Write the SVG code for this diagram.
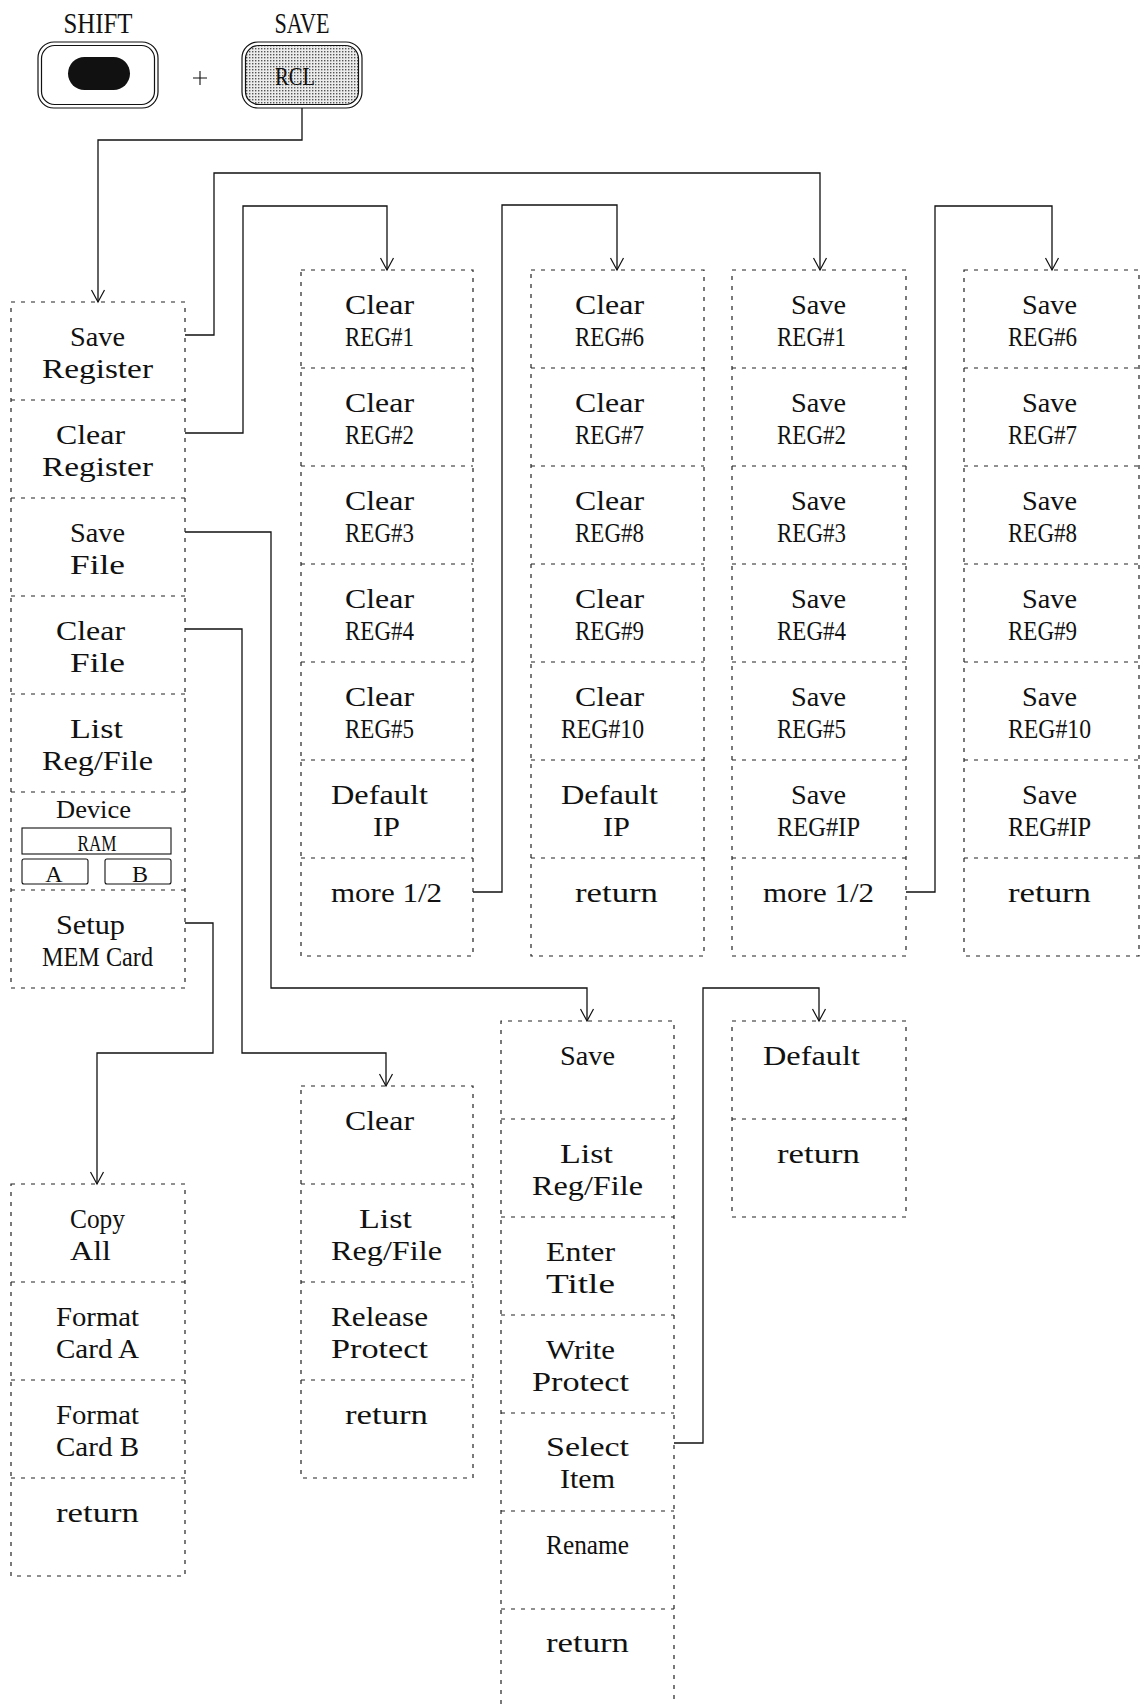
<svg xmlns="http://www.w3.org/2000/svg" width="1142" height="1704" viewBox="0 0 1142 1704">
<style>
.t{font-family:"Liberation Serif","Times New Roman",serif;font-size:27.5px;fill:#111}
.box{fill:none;stroke:#222;stroke-width:1.2;stroke-dasharray:4 6}
.sep{fill:none;stroke:#222;stroke-width:1.2;stroke-dasharray:4 6}
.con{fill:none;stroke:#111;stroke-width:1.3}
.arr{marker-end:url(#arr)}
.key{fill:none;stroke:#111;stroke-width:1.2}
.dotted{fill:url(#dots)}
.thin{fill:none;stroke:#111;stroke-width:1.1}
</style>
<defs>
<marker id="arr" viewBox="-13 -8 15 16" refX="0" refY="0" markerWidth="15" markerHeight="16" markerUnits="userSpaceOnUse" orient="auto">
<path d="M-12,-6.5 L0,0 L-12,6.5" fill="none" stroke="#111" stroke-width="1.2"/>
</marker>
<pattern id="dots" patternUnits="userSpaceOnUse" width="3" height="3">
<rect x="0" y="0" width="3" height="3" fill="#ececec"/>
<rect x="0" y="0" width="1.4" height="1.4" fill="#555"/>
</pattern>
</defs>
<rect width="1142" height="1704" fill="#fff"/>

<g id="key-shift">
<text class="t" x="98" y="33" text-anchor="middle" textLength="69" lengthAdjust="spacingAndGlyphs" style="font-size:30px">SHIFT</text>
<rect class="key" x="38" y="42" width="120" height="66" rx="16"/>
<rect class="key" x="41.5" y="45.5" width="113" height="59" rx="13"/>
<rect x="68" y="57" width="62" height="33" rx="16.5" fill="#111"/>
</g>
<g id="plus"><path class="thin" d="M193,78 H207 M200,71 V85"/></g>
<g id="key-save">
<text class="t" x="302" y="33" text-anchor="middle" textLength="55" lengthAdjust="spacingAndGlyphs" style="font-size:30px">SAVE</text>
<rect class="key" x="242" y="42" width="120" height="66" rx="16"/>
<rect class="key dotted" x="245.5" y="45.5" width="113" height="59" rx="13"/>
<text class="t" x="295" y="85" text-anchor="middle" textLength="40" lengthAdjust="spacingAndGlyphs" style="font-size:26px">RCL</text>
</g>

<g id="connectors">
<path class="con arr" d="M302,108 V140 H98 V302"/>
<path class="con arr" d="M185,335 H214 V173 H820 V270"/>
<path class="con arr" d="M185,433 H243 V206 H387 V270"/>
<path class="con arr" d="M185,532 H271 V988 H587 V1021"/>
<path class="con arr" d="M185,629 H242 V1053 H386 V1086"/>
<path class="con arr" d="M185,923 H213 V1053 H97 V1184"/>
<path class="con arr" d="M473,892 H502 V205 H617 V270"/>
<path class="con arr" d="M906,892 H935 V206 H1052 V270"/>
<path class="con arr" d="M674,1443 H703 V988 H819 V1021"/>
</g>

<g id="menu-main">
<rect class="box" x="11" y="302" width="174" height="686"/>
<path class="sep" d="M11,400 H185 M11,498 H185 M11,596 H185 M11,694 H185 M11,792 H185 M11,890 H185"/>
<g id="m-save-register"><text class="t" x="70" y="346" textLength="55" lengthAdjust="spacingAndGlyphs">Save</text><text class="t" x="42" y="378" textLength="111" lengthAdjust="spacingAndGlyphs">Register</text></g>
<g id="m-clear-register"><text class="t" x="56" y="444" textLength="69" lengthAdjust="spacingAndGlyphs">Clear</text><text class="t" x="42" y="476" textLength="111" lengthAdjust="spacingAndGlyphs">Register</text></g>
<g id="m-save-file"><text class="t" x="70" y="542" textLength="55" lengthAdjust="spacingAndGlyphs">Save</text><text class="t" x="70" y="574" textLength="55" lengthAdjust="spacingAndGlyphs">File</text></g>
<g id="m-clear-file"><text class="t" x="56" y="640" textLength="69" lengthAdjust="spacingAndGlyphs">Clear</text><text class="t" x="70" y="672" textLength="55" lengthAdjust="spacingAndGlyphs">File</text></g>
<g id="m-list"><text class="t" x="70" y="738" textLength="53" lengthAdjust="spacingAndGlyphs">List</text><text class="t" x="42" y="770" textLength="111" lengthAdjust="spacingAndGlyphs">Reg/File</text></g>
<g id="m-device">
<text class="t" x="56" y="818" textLength="75" lengthAdjust="spacingAndGlyphs" style="font-size:25px">Device</text>
<rect class="thin" x="22" y="828" width="149" height="26"/>
<text class="t" x="97" y="851" text-anchor="middle" textLength="39" lengthAdjust="spacingAndGlyphs" style="font-size:24px">RAM</text>
<rect class="thin" x="22" y="859" width="66" height="25" rx="2"/>
<text class="t" x="54" y="882" text-anchor="middle" style="font-size:24px">A</text>
<rect class="thin" x="105" y="859" width="66" height="25" rx="2"/>
<text class="t" x="140" y="882" text-anchor="middle" style="font-size:24px">B</text>
</g>
<g id="m-setup"><text class="t" x="56" y="934" textLength="69" lengthAdjust="spacingAndGlyphs">Setup</text><text class="t" x="42" y="966" textLength="111" lengthAdjust="spacingAndGlyphs">MEM Card</text></g>
</g>

<g id="menu-clear-reg-1">
<rect class="box" x="301" y="270" width="172" height="686"/>
<path class="sep" d="M301,368 H473 M301,466 H473 M301,564 H473 M301,662 H473 M301,760 H473 M301,858 H473"/>
<g id="cr1"><text class="t" x="345" y="314" textLength="69" lengthAdjust="spacingAndGlyphs">Clear</text><text class="t" x="345" y="346" textLength="69" lengthAdjust="spacingAndGlyphs">REG#1</text></g>
<g id="cr2"><text class="t" x="345" y="412" textLength="69" lengthAdjust="spacingAndGlyphs">Clear</text><text class="t" x="345" y="444" textLength="69" lengthAdjust="spacingAndGlyphs">REG#2</text></g>
<g id="cr3"><text class="t" x="345" y="510" textLength="69" lengthAdjust="spacingAndGlyphs">Clear</text><text class="t" x="345" y="542" textLength="69" lengthAdjust="spacingAndGlyphs">REG#3</text></g>
<g id="cr4"><text class="t" x="345" y="608" textLength="69" lengthAdjust="spacingAndGlyphs">Clear</text><text class="t" x="345" y="640" textLength="69" lengthAdjust="spacingAndGlyphs">REG#4</text></g>
<g id="cr5"><text class="t" x="345" y="706" textLength="69" lengthAdjust="spacingAndGlyphs">Clear</text><text class="t" x="345" y="738" textLength="69" lengthAdjust="spacingAndGlyphs">REG#5</text></g>
<g id="cr-default"><text class="t" x="331" y="804" textLength="97" lengthAdjust="spacingAndGlyphs">Default</text><text class="t" x="373" y="836" textLength="27" lengthAdjust="spacingAndGlyphs">IP</text></g>
<g id="cr-more"><text class="t" x="331" y="902" textLength="111" lengthAdjust="spacingAndGlyphs">more 1/2</text></g>
</g>

<g id="menu-clear-reg-2">
<rect class="box" x="531" y="270" width="173" height="686"/>
<path class="sep" d="M531,368 H704 M531,466 H704 M531,564 H704 M531,662 H704 M531,760 H704 M531,858 H704"/>
<g id="cr6"><text class="t" x="575" y="314" textLength="69" lengthAdjust="spacingAndGlyphs">Clear</text><text class="t" x="575" y="346" textLength="69" lengthAdjust="spacingAndGlyphs">REG#6</text></g>
<g id="cr7"><text class="t" x="575" y="412" textLength="69" lengthAdjust="spacingAndGlyphs">Clear</text><text class="t" x="575" y="444" textLength="69" lengthAdjust="spacingAndGlyphs">REG#7</text></g>
<g id="cr8"><text class="t" x="575" y="510" textLength="69" lengthAdjust="spacingAndGlyphs">Clear</text><text class="t" x="575" y="542" textLength="69" lengthAdjust="spacingAndGlyphs">REG#8</text></g>
<g id="cr9"><text class="t" x="575" y="608" textLength="69" lengthAdjust="spacingAndGlyphs">Clear</text><text class="t" x="575" y="640" textLength="69" lengthAdjust="spacingAndGlyphs">REG#9</text></g>
<g id="cr10"><text class="t" x="575" y="706" textLength="69" lengthAdjust="spacingAndGlyphs">Clear</text><text class="t" x="561" y="738" textLength="83" lengthAdjust="spacingAndGlyphs">REG#10</text></g>
<g id="cr-default-2"><text class="t" x="561" y="804" textLength="97" lengthAdjust="spacingAndGlyphs">Default</text><text class="t" x="603" y="836" textLength="27" lengthAdjust="spacingAndGlyphs">IP</text></g>
<g id="cr-return"><text class="t" x="575" y="902" textLength="83" lengthAdjust="spacingAndGlyphs">return</text></g>
</g>

<g id="menu-save-reg-1">
<rect class="box" x="732" y="270" width="174" height="686"/>
<path class="sep" d="M732,368 H906 M732,466 H906 M732,564 H906 M732,662 H906 M732,760 H906 M732,858 H906"/>
<g id="sr1"><text class="t" x="791" y="314" textLength="55" lengthAdjust="spacingAndGlyphs">Save</text><text class="t" x="777" y="346" textLength="69" lengthAdjust="spacingAndGlyphs">REG#1</text></g>
<g id="sr2"><text class="t" x="791" y="412" textLength="55" lengthAdjust="spacingAndGlyphs">Save</text><text class="t" x="777" y="444" textLength="69" lengthAdjust="spacingAndGlyphs">REG#2</text></g>
<g id="sr3"><text class="t" x="791" y="510" textLength="55" lengthAdjust="spacingAndGlyphs">Save</text><text class="t" x="777" y="542" textLength="69" lengthAdjust="spacingAndGlyphs">REG#3</text></g>
<g id="sr4"><text class="t" x="791" y="608" textLength="55" lengthAdjust="spacingAndGlyphs">Save</text><text class="t" x="777" y="640" textLength="69" lengthAdjust="spacingAndGlyphs">REG#4</text></g>
<g id="sr5"><text class="t" x="791" y="706" textLength="55" lengthAdjust="spacingAndGlyphs">Save</text><text class="t" x="777" y="738" textLength="69" lengthAdjust="spacingAndGlyphs">REG#5</text></g>
<g id="sr-ip"><text class="t" x="791" y="804" textLength="55" lengthAdjust="spacingAndGlyphs">Save</text><text class="t" x="777" y="836" textLength="83" lengthAdjust="spacingAndGlyphs">REG#IP</text></g>
<g id="sr-more"><text class="t" x="763" y="902" textLength="111" lengthAdjust="spacingAndGlyphs">more 1/2</text></g>
</g>

<g id="menu-save-reg-2">
<rect class="box" x="964" y="270" width="175" height="686"/>
<path class="sep" d="M964,368 H1139 M964,466 H1139 M964,564 H1139 M964,662 H1139 M964,760 H1139 M964,858 H1139"/>
<g id="sr6"><text class="t" x="1022" y="314" textLength="55" lengthAdjust="spacingAndGlyphs">Save</text><text class="t" x="1008" y="346" textLength="69" lengthAdjust="spacingAndGlyphs">REG#6</text></g>
<g id="sr7"><text class="t" x="1022" y="412" textLength="55" lengthAdjust="spacingAndGlyphs">Save</text><text class="t" x="1008" y="444" textLength="69" lengthAdjust="spacingAndGlyphs">REG#7</text></g>
<g id="sr8"><text class="t" x="1022" y="510" textLength="55" lengthAdjust="spacingAndGlyphs">Save</text><text class="t" x="1008" y="542" textLength="69" lengthAdjust="spacingAndGlyphs">REG#8</text></g>
<g id="sr9"><text class="t" x="1022" y="608" textLength="55" lengthAdjust="spacingAndGlyphs">Save</text><text class="t" x="1008" y="640" textLength="69" lengthAdjust="spacingAndGlyphs">REG#9</text></g>
<g id="sr10"><text class="t" x="1022" y="706" textLength="55" lengthAdjust="spacingAndGlyphs">Save</text><text class="t" x="1008" y="738" textLength="83" lengthAdjust="spacingAndGlyphs">REG#10</text></g>
<g id="sr-ip-2"><text class="t" x="1022" y="804" textLength="55" lengthAdjust="spacingAndGlyphs">Save</text><text class="t" x="1008" y="836" textLength="83" lengthAdjust="spacingAndGlyphs">REG#IP</text></g>
<g id="sr-return"><text class="t" x="1008" y="902" textLength="83" lengthAdjust="spacingAndGlyphs">return</text></g>
</g>

<g id="menu-setup">
<rect class="box" x="11" y="1184" width="174" height="392"/>
<path class="sep" d="M11,1282 H185 M11,1380 H185 M11,1478 H185"/>
<g id="su-copy"><text class="t" x="70" y="1228" textLength="55" lengthAdjust="spacingAndGlyphs">Copy</text><text class="t" x="70" y="1260" textLength="41" lengthAdjust="spacingAndGlyphs">All</text></g>
<g id="su-fa"><text class="t" x="56" y="1326" textLength="83" lengthAdjust="spacingAndGlyphs">Format</text><text class="t" x="56" y="1358" textLength="83" lengthAdjust="spacingAndGlyphs">Card A</text></g>
<g id="su-fb"><text class="t" x="56" y="1424" textLength="83" lengthAdjust="spacingAndGlyphs">Format</text><text class="t" x="56" y="1456" textLength="83" lengthAdjust="spacingAndGlyphs">Card B</text></g>
<g id="su-return"><text class="t" x="56" y="1522" textLength="83" lengthAdjust="spacingAndGlyphs">return</text></g>
</g>

<g id="menu-clear-file">
<rect class="box" x="301" y="1086" width="172" height="392"/>
<path class="sep" d="M301,1184 H473 M301,1282 H473 M301,1380 H473"/>
<g id="cf-clear"><text class="t" x="345" y="1130" textLength="69" lengthAdjust="spacingAndGlyphs">Clear</text></g>
<g id="cf-list"><text class="t" x="359" y="1228" textLength="53" lengthAdjust="spacingAndGlyphs">List</text><text class="t" x="331" y="1260" textLength="111" lengthAdjust="spacingAndGlyphs">Reg/File</text></g>
<g id="cf-release"><text class="t" x="331" y="1326" textLength="97" lengthAdjust="spacingAndGlyphs">Release</text><text class="t" x="331" y="1358" textLength="97" lengthAdjust="spacingAndGlyphs">Protect</text></g>
<g id="cf-return"><text class="t" x="345" y="1424" textLength="83" lengthAdjust="spacingAndGlyphs">return</text></g>
</g>

<g id="menu-save-file">
<path class="box" d="M501,1704 V1021 H674 V1704"/>
<path class="sep" d="M501,1119 H674 M501,1217 H674 M501,1315 H674 M501,1413 H674 M501,1511 H674 M501,1609 H674"/>
<g id="sf-save"><text class="t" x="560" y="1065" textLength="55" lengthAdjust="spacingAndGlyphs">Save</text></g>
<g id="sf-list"><text class="t" x="560" y="1163" textLength="53" lengthAdjust="spacingAndGlyphs">List</text><text class="t" x="532" y="1195" textLength="111" lengthAdjust="spacingAndGlyphs">Reg/File</text></g>
<g id="sf-title"><text class="t" x="546" y="1261" textLength="69" lengthAdjust="spacingAndGlyphs">Enter</text><text class="t" x="546" y="1293" textLength="69" lengthAdjust="spacingAndGlyphs">Title</text></g>
<g id="sf-protect"><text class="t" x="546" y="1359" textLength="69" lengthAdjust="spacingAndGlyphs">Write</text><text class="t" x="532" y="1391" textLength="97" lengthAdjust="spacingAndGlyphs">Protect</text></g>
<g id="sf-select"><text class="t" x="546" y="1456" textLength="83" lengthAdjust="spacingAndGlyphs">Select</text><text class="t" x="560" y="1488" textLength="55" lengthAdjust="spacingAndGlyphs">Item</text></g>
<g id="sf-rename"><text class="t" x="546" y="1554" textLength="83" lengthAdjust="spacingAndGlyphs">Rename</text></g>
<g id="sf-return"><text class="t" x="546" y="1652" textLength="83" lengthAdjust="spacingAndGlyphs">return</text></g>
</g>

<g id="menu-select">
<rect class="box" x="732" y="1021" width="174" height="196"/>
<path class="sep" d="M732,1119 H906"/>
<g id="se-default"><text class="t" x="763" y="1065" textLength="97" lengthAdjust="spacingAndGlyphs">Default</text></g>
<g id="se-return"><text class="t" x="777" y="1163" textLength="83" lengthAdjust="spacingAndGlyphs">return</text></g>
</g>
</svg>
